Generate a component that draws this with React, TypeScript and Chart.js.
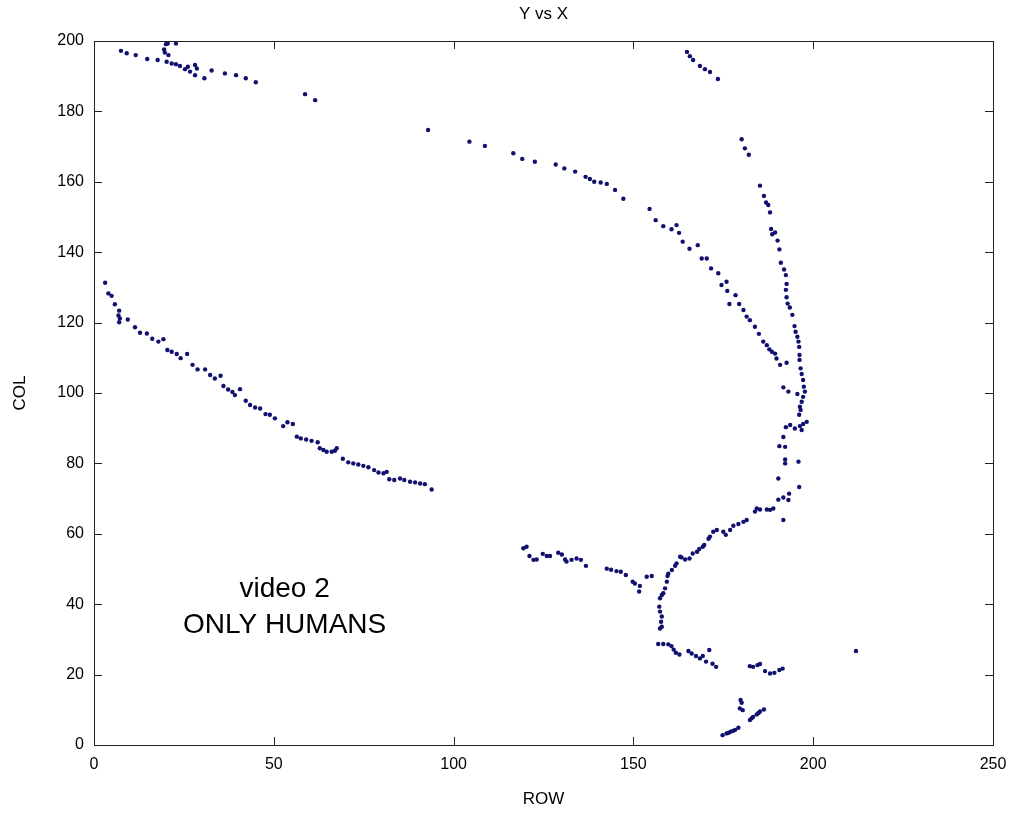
import React, { useEffect, useRef } from "react";
import { Chart, registerables } from "chart.js";

Chart.register(...registerables);

// Tracked positions [row, col]
const topLeftTrack: [number, number][] = [
  [7.5, 197.2], [9.1, 196.5], [11.6, 196.0], [14.8, 194.9], [17.7, 194.6], [19.5, 197.6], [19.7, 196.7],
  [20.0, 199.1], [20.5, 199.3], [22.8, 199.3], [20.2, 194.1], [20.7, 196.0], [21.6, 193.6], [22.8, 193.4],
  [23.9, 192.9], [25.3, 192.0], [26.1, 192.7], [26.7, 191.3], [28.1, 193.2], [28.6, 192.2], [28.1, 190.3],
  [30.7, 189.4], [32.7, 191.6], [36.4, 190.8], [39.5, 190.3], [42.2, 189.4], [45.0, 188.3], [58.7, 184.9],
  [61.5, 183.2],
];

const diagonalTrack: [number, number][] = [
  [3.1, 131.3], [4.0, 128.3], [4.9, 127.6], [5.8, 125.2], [7.0, 123.4], [6.8, 122.0], [7.2, 121.2], [7.0, 120.1],
  [9.4, 120.9], [11.4, 118.7], [12.8, 117.1], [14.7, 116.9], [16.2, 115.4], [17.9, 114.6], [19.3, 115.3],
  [20.4, 112.2], [21.6, 111.7], [23.0, 111.1], [24.1, 109.9], [25.9, 111.1], [27.4, 108.0], [28.8, 106.7],
  [30.9, 106.7], [32.3, 105.1], [33.6, 104.1], [35.2, 104.9], [36.0, 102.0], [37.3, 101.0], [38.5, 100.3],
  [39.2, 99.4], [40.6, 101.1], [42.2, 97.8], [43.4, 96.6], [44.8, 95.9], [46.2, 95.6], [47.7, 94.0], [48.9, 93.8],
  [50.3, 92.8], [52.6, 90.6], [53.8, 91.7], [55.3, 91.2], [56.4, 87.6], [57.5, 87.1], [59.0, 86.8], [60.5, 86.4],
  [62.2, 86.0], [62.8, 84.3], [63.8, 83.8], [64.7, 83.3], [66.1, 83.3], [67.0, 83.6], [67.5, 84.3], [69.2, 81.3],
  [70.7, 80.3], [72.1, 80.0], [73.5, 79.7], [74.9, 79.3], [76.3, 78.9], [77.9, 78.1], [79.1, 77.4], [80.5, 77.2],
  [81.4, 77.6], [82.1, 75.5], [83.5, 75.3], [85.1, 75.7], [86.3, 75.3], [87.9, 74.8], [89.3, 74.6], [90.7, 74.3],
  [92.0, 74.1], [93.9, 72.6],
];

const arcTrack: [number, number][] = [
  [92.9, 174.7], [104.4, 171.4], [108.7, 170.2], [116.6, 168.1], [119.1, 166.5], [122.6, 165.7], [128.4, 164.9],
  [130.8, 163.8], [133.8, 162.9], [136.7, 161.4], [137.9, 160.8], [139.1, 160.0], [140.9, 159.8], [142.6, 159.4],
  [144.9, 157.7], [147.2, 155.2], [154.5, 152.3], [156.2, 149.1], [158.3, 147.4], [160.6, 146.5], [162.0, 147.7],
  [162.7, 145.5], [163.7, 143.0], [165.6, 141.0], [167.9, 142.0], [169.0, 138.2], [170.4, 138.2], [171.6, 135.4],
  [173.6, 134.0], [175.9, 131.6], [174.5, 130.7], [176.1, 129.0], [178.4, 127.8], [176.7, 125.3], [179.4, 125.3],
  [180.6, 123.6], [181.5, 121.7], [182.4, 120.7], [183.8, 118.8], [184.9, 116.8], [186.1, 114.6], [187.1, 113.6],
  [187.8, 112.4], [188.5, 111.7], [189.4, 111.2], [189.8, 109.8], [190.8, 108.0], [192.6, 108.6],
];

const topRightTrack: [number, number][] = [
  [164.9, 196.9], [165.7, 195.7], [166.6, 194.6], [168.5, 192.9], [169.9, 192.0], [171.3, 191.2], [173.5, 189.2],
  [180.1, 172.1], [181.0, 169.5], [182.1, 167.7],
];

const rightBranch: [number, number][] = [
  [185.2, 158.9], [186.3, 156.0], [186.9, 154.1], [187.5, 153.4], [188.0, 151.3], [188.3, 146.6], [188.6, 145.1],
  [189.4, 145.6], [190.1, 143.3], [190.6, 140.8], [191.0, 137.0], [191.9, 135.1], [192.4, 133.5], [192.6, 131.0],
  [192.4, 129.3], [192.6, 127.2], [192.9, 125.4], [193.5, 124.3], [194.2, 122.2], [194.8, 119.0], [195.1, 117.4],
  [195.6, 116.0], [195.9, 114.6], [196.1, 113.1], [196.2, 110.8], [196.2, 109.4], [196.5, 107.0], [196.8, 105.4],
  [197.2, 103.7], [197.4, 101.8], [197.7, 100.4], [197.2, 98.9], [196.8, 97.5], [196.3, 96.1], [196.5, 95.2],
  [196.1, 93.8], [198.2, 91.8], [197.2, 91.2], [196.3, 90.6], [196.8, 89.5], [194.9, 89.9], [193.6, 90.9],
  [192.4, 90.3], [191.7, 101.6], [193.1, 100.4], [195.6, 99.7], [191.7, 87.5], [190.6, 84.9], [192.2, 84.7],
  [192.2, 81.1], [192.2, 80.0], [195.9, 80.5], [190.3, 75.7], [196.1, 73.3], [193.3, 71.4], [191.7, 70.3],
  [190.3, 69.7], [193.1, 69.6], [188.9, 67.2], [188.0, 66.8], [187.1, 66.9], [185.2, 66.9], [184.3, 67.2],
  [183.8, 66.3], [181.5, 63.9], [180.6, 63.4], [191.7, 63.9],
];

const stemTrack: [number, number][] = [
  [179.2, 62.8], [177.8, 62.3], [176.9, 61.1], [175.7, 59.7], [175.0, 60.6], [173.2, 61.1], [172.2, 60.6],
  [171.3, 59.2], [170.9, 58.6], [169.7, 56.8], [169.3, 56.3], [168.3, 55.7], [167.7, 54.9], [166.5, 54.4],
  [165.6, 53.0], [164.4, 52.7], [163.4, 53.3], [163.0, 53.5], [162.0, 51.6], [161.6, 50.9], [160.7, 49.7],
  [159.7, 48.7], [159.5, 48.0], [159.3, 46.4], [158.8, 44.5], [158.3, 43.1], [157.9, 42.6], [157.4, 41.7],
  [157.2, 39.3], [157.4, 37.9], [157.9, 36.5], [157.7, 35.0], [157.9, 33.6], [157.4, 33.1],
];

const middleTrack: [number, number][] = [
  [119.4, 55.9], [120.3, 56.3], [121.1, 53.7], [122.2, 52.6], [123.1, 52.7], [124.8, 54.3], [125.9, 53.7],
  [126.8, 53.7], [129.1, 54.6], [130.1, 54.1], [131.0, 52.7], [131.4, 52.1], [132.8, 52.6], [134.2, 53.0],
  [135.4, 52.6], [136.8, 50.9], [142.6, 50.1], [143.8, 49.8], [145.3, 49.4], [146.5, 49.2], [147.9, 48.3],
  [149.8, 46.4], [150.4, 45.9], [151.8, 45.2], [151.6, 43.6], [153.7, 47.8], [155.1, 48.0],
];

const lowerTrack: [number, number][] = [
  [156.9, 28.7], [158.3, 28.7], [159.7, 28.6], [160.6, 28.1], [161.2, 27.1], [161.8, 26.2], [162.8, 25.7],
  [165.3, 26.7], [166.2, 26.0], [167.4, 25.3], [168.5, 24.6], [169.3, 25.3], [170.2, 23.7], [171.1, 27.0],
  [172.0, 23.1], [173.0, 22.2],
  [182.4, 22.4], [183.3, 22.2], [184.5, 22.7], [185.2, 23.0], [186.6, 21.0], [188.0, 20.3], [189.2, 20.5],
  [190.6, 21.3], [191.5, 21.7],
  [211.9, 26.7],
];

const bottomTrack: [number, number][] = [
  [179.8, 12.8], [180.1, 12.0], [179.6, 10.4], [180.4, 9.9], [182.4, 7.1], [182.9, 7.6], [183.3, 8.0],
  [184.3, 8.7], [184.8, 9.1], [185.2, 9.5], [186.3, 10.1], [174.8, 2.8], [175.9, 3.3], [176.5, 3.5],
  [177.1, 3.8], [177.7, 4.0], [178.3, 4.3], [179.2, 4.9],
];

const xTicks = [0, 50, 100, 150, 200, 250];
const yTicks = [0, 20, 40, 60, 80, 100, 120, 140, 160, 180, 200];

const titleText = "Y vs X";
const xLabel = "ROW";
const yLabel = "COL";
const noteLines = ["video 2", "ONLY HUMANS"];
const notePos: [number, number][] = [
  [53, 44.3],
  [53, 34.0],
];

const FONT = 'Arial, "Liberation Sans", Helvetica, sans-serif';
const POINT_COLOR = "#10106e";

const allTracks = [
  topLeftTrack, diagonalTrack, arcTrack, topRightTrack, rightBranch,
  stemTrack, middleTrack, lowerTrack, bottomTrack,
];

// Frame box with inward ticks on all four sides, title centred over the plot, and the text note
const framePlugin = {
  id: "frameAndNote",
  afterDraw(chart: any) {
    const { ctx, chartArea: a, scales } = chart;
    const tl = 8;
    ctx.save();
    ctx.strokeStyle = "#222";
    ctx.lineWidth = 1;
    ctx.strokeRect(Math.round(a.left) + 0.5, Math.round(a.top) + 0.5, Math.round(a.right - a.left), Math.round(a.bottom - a.top));
    ctx.beginPath();
    for (const v of xTicks) {
      const x = Math.round(scales.x.getPixelForValue(v)) + 0.5;
      ctx.moveTo(x, a.bottom);
      ctx.lineTo(x, a.bottom - tl);
      ctx.moveTo(x, a.top);
      ctx.lineTo(x, a.top + tl);
    }
    for (const v of yTicks) {
      const y = Math.round(scales.y.getPixelForValue(v)) + 0.5;
      ctx.moveTo(a.left, y);
      ctx.lineTo(a.left + tl, y);
      ctx.moveTo(a.right, y);
      ctx.lineTo(a.right - tl, y);
    }
    ctx.stroke();

    ctx.fillStyle = "#000";
    ctx.textAlign = "center";
    ctx.textBaseline = "middle";
    ctx.font = `17px ${FONT}`;
    ctx.fillText(titleText, (a.left + a.right) / 2, 14);

    ctx.font = `28px ${FONT}`;
    noteLines.forEach((line, i) => {
      const [nx, ny] = notePos[i];
      ctx.fillText(line, scales.x.getPixelForValue(nx), scales.y.getPixelForValue(ny));
    });
    ctx.restore();
  },
};

export default function App() {
  const canvasRef = useRef<HTMLCanvasElement | null>(null);

  useEffect(() => {
    if (!canvasRef.current) return;
    const points = allTracks.flat().map(([x, y]) => ({ x, y }));
    const chart = new Chart(canvasRef.current, {
      type: "scatter",
      data: {
        datasets: [
          {
            data: points,
            pointRadius: 2.2,
            pointBackgroundColor: POINT_COLOR,
            pointBorderColor: POINT_COLOR,
            pointBorderWidth: 0,
            showLine: false,
          },
        ],
      },
      options: {
        responsive: false,
        animation: false,
        layout: { padding: { left: 0, right: 17, top: 41, bottom: 0 } },
        plugins: {
          legend: { display: false },
          tooltip: { enabled: false },
          title: { display: false },
        },
        scales: {
          x: {
            type: "linear",
            min: 0,
            max: 250,
            afterBuildTicks: (s: any) => {
              s.ticks = xTicks.map((v) => ({ value: v }));
            },
            ticks: { color: "#000", font: { family: FONT, size: 16 }, padding: 10, maxRotation: 0 },
            grid: { display: false, drawTicks: false },
            border: { display: false },
            title: {
              display: true,
              text: xLabel,
              color: "#000",
              font: { family: FONT, size: 17 },
              padding: { top: 0, bottom: 5 },
            },
            afterFit: (s: any) => {
              s.height = 70;
              s.paddingLeft = 0;
              s.paddingRight = 0;
            },
          },
          y: {
            type: "linear",
            min: 0,
            max: 200,
            afterBuildTicks: (s: any) => {
              s.ticks = yTicks.map((v) => ({ value: v }));
            },
            ticks: { color: "#000", font: { family: FONT, size: 16 }, padding: 10 },
            grid: { display: false, drawTicks: false },
            border: { display: false },
            title: {
              display: true,
              text: yLabel,
              color: "#000",
              font: { family: FONT, size: 17 },
              padding: { top: 10, bottom: 0 },
            },
            afterFit: (s: any) => {
              s.width = 94;
              s.paddingTop = 0;
              s.paddingBottom = 0;
            },
          },
        },
      },
      plugins: [framePlugin],
    });
    return () => chart.destroy();
  }, []);

  return (
    <div style={{ position: "absolute", left: 0, top: 0, width: 1010, height: 815, background: "#fff" }}>
      <canvas ref={canvasRef} width={1010} height={815} />
    </div>
  );
}
